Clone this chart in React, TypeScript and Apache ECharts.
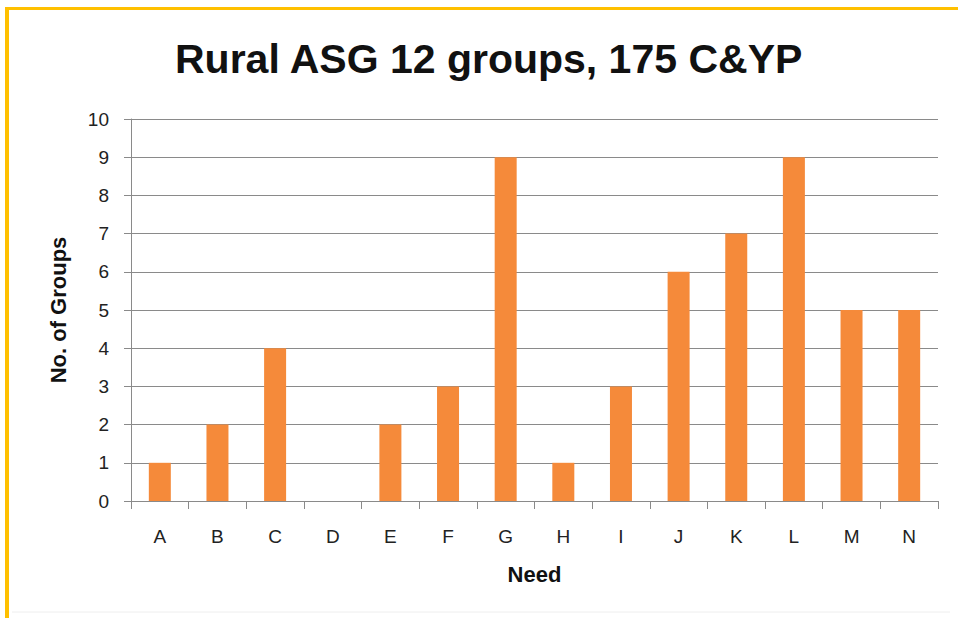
import React, { useEffect, useRef } from "react";
import * as echarts from "echarts";

const categories = ["A", "B", "C", "D", "E", "F", "G", "H", "I", "J", "K", "L", "M", "N"];
const groupCounts = [1, 2, 4, 0, 2, 3, 9, 1, 3, 6, 7, 9, 5, 5];
const titleText = "Rural ASG 12 groups, 175 C&YP";
const xName = "Need";
const yName = "No. of Groups";

export default function App() {
  const ref = useRef<HTMLDivElement>(null);
  useEffect(() => {
    document.body.style.margin = "0";
    const chart = echarts.init(ref.current!, null, { renderer: "svg" });
    const font = "'Liberation Sans', Arial, sans-serif";
    chart.setOption({
      animation: false,
      backgroundColor: "#ffffff",
      title: {
        text: titleText,
        left: 170,
        top: 33,
        textStyle: { fontFamily: font, fontWeight: "bold", fontSize: 41, color: "#111" },
      },
      graphic: [
        { type: "rect", shape: { x: 5, y: 7, width: 953, height: 3 }, style: { fill: "#FFC000" } },
        { type: "rect", shape: { x: 5, y: 7, width: 4, height: 611 }, style: { fill: "#FFC000" } },
        { type: "line", shape: { x1: 12, y1: 612, x2: 950, y2: 612 }, style: { stroke: "#eeeeee", lineWidth: 1 } },
      ],
      grid: { left: 131, right: 20, top: 119, bottom: 117 },
      xAxis: {
        type: "category",
        data: categories,
        name: xName,
        nameLocation: "middle",
        nameGap: 62,
        nameTextStyle: { fontFamily: font, fontWeight: "bold", fontSize: 22, color: "#111" },
        axisLine: { show: true, lineStyle: { color: "#8a8a8a", width: 1 } },
        axisTick: { show: true, alignWithLabel: false, length: 8, lineStyle: { color: "#8a8a8a" } },
        axisLabel: { fontFamily: font, fontSize: 19, color: "#222", margin: 26 },
      },
      yAxis: {
        type: "value",
        min: 0,
        max: 10,
        interval: 1,
        name: yName,
        nameLocation: "middle",
        nameGap: 62,
        nameTextStyle: { fontFamily: font, fontWeight: "bold", fontSize: 22, color: "#111" },
        axisLine: { show: true, lineStyle: { color: "#8a8a8a", width: 1 } },
        axisTick: { show: true, length: 7, lineStyle: { color: "#8a8a8a" } },
        axisLabel: { fontFamily: font, fontSize: 19, color: "#222", margin: 22 },
        splitLine: { show: true, lineStyle: { color: "#8a8a8a", width: 1 } },
      },
      series: [
        {
          type: "bar",
          data: groupCounts,
          barWidth: 22,
          itemStyle: { color: "#F58A3A" },
        },
      ],
    });
    return () => chart.dispose();
  }, []);
  return <div ref={ref} style={{ width: 958, height: 618 }} />;
}
